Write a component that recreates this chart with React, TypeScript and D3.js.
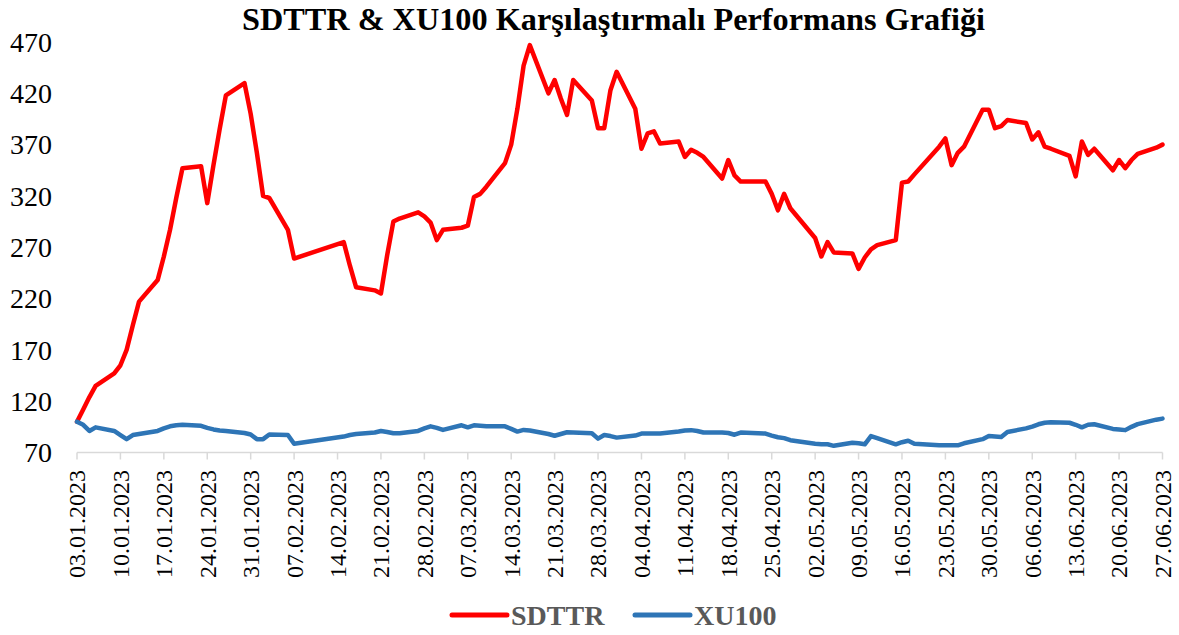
import React, { useEffect, useRef } from "react";
import * as d3 from "d3";

// trading days (Borsa Istanbul, H1 2023)
const dates = [
  "03.01.2023", "04.01.2023", "05.01.2023", "06.01.2023", "09.01.2023", "10.01.2023", "11.01.2023",
  "12.01.2023", "13.01.2023", "16.01.2023", "17.01.2023", "18.01.2023", "19.01.2023", "20.01.2023",
  "23.01.2023", "24.01.2023", "25.01.2023", "26.01.2023", "27.01.2023", "30.01.2023", "31.01.2023",
  "01.02.2023", "02.02.2023", "03.02.2023", "06.02.2023", "07.02.2023", "15.02.2023", "16.02.2023",
  "17.02.2023", "20.02.2023", "21.02.2023", "22.02.2023", "23.02.2023", "24.02.2023", "27.02.2023",
  "28.02.2023",
  "01.03.2023", "02.03.2023", "03.03.2023", "06.03.2023", "07.03.2023", "08.03.2023", "09.03.2023",
  "10.03.2023", "13.03.2023", "14.03.2023", "15.03.2023", "16.03.2023", "17.03.2023", "20.03.2023",
  "21.03.2023", "22.03.2023", "23.03.2023", "24.03.2023", "27.03.2023", "28.03.2023", "29.03.2023",
  "30.03.2023", "31.03.2023",
  "03.04.2023", "04.04.2023", "05.04.2023", "06.04.2023", "07.04.2023", "10.04.2023", "11.04.2023",
  "12.04.2023", "13.04.2023", "14.04.2023", "17.04.2023", "18.04.2023", "19.04.2023", "20.04.2023",
  "24.04.2023", "25.04.2023", "26.04.2023", "27.04.2023", "28.04.2023",
  "02.05.2023", "03.05.2023", "04.05.2023", "05.05.2023", "08.05.2023", "09.05.2023", "10.05.2023",
  "11.05.2023", "12.05.2023", "15.05.2023", "16.05.2023", "17.05.2023", "18.05.2023", "22.05.2023",
  "23.05.2023", "24.05.2023", "25.05.2023", "26.05.2023", "29.05.2023", "30.05.2023", "31.05.2023",
  "01.06.2023", "02.06.2023", "05.06.2023", "06.06.2023", "07.06.2023", "08.06.2023", "09.06.2023",
  "12.06.2023", "13.06.2023", "14.06.2023", "15.06.2023", "16.06.2023", "19.06.2023", "20.06.2023",
  "21.06.2023", "22.06.2023", "23.06.2023", "26.06.2023", "27.06.2023",
];

const sdttr = [
  100, 112, 124, 135, 147, 155, 170, 194, 217, 238, 261, 287, 318, 347, 349, 313, 350, 385, 418, 430, 400,
  362, 320, 318, 287, 259, 275, 252, 231, 228, 225, 262, 295, 298, 304, 300,
  294, 277, 287, 289, 291, 319, 322, 329, 352, 370, 405, 447, 467, 420, 433, 415, 399, 433, 413, 386, 386, 423, 441,
  405, 366, 381, 383, 371, 373, 358, 365, 362, 358, 337, 355, 340, 334, 334, 322, 306, 322, 308,
  279, 261, 275, 265, 264, 249, 260, 268, 272, 277, 333, 334, 341, 368, 376, 350, 362, 368, 404, 404, 386,
  388, 394, 391, 375, 382, 368, 366, 359, 339, 373, 360, 366, 345, 355, 347, 355, 361, 367, 370,
];

const xu100 = [
  100, 97, 91, 94.5, 91, 87, 83, 87, 88, 91, 93.5, 95.5, 96.5, 97, 96, 94, 92.5, 91.5, 91, 89, 87.6,
  83, 83, 87.6, 87, 78.5, 85.5, 87, 88, 89.5, 91, 90, 88.7, 88.7, 91, 93.5,
  95.5, 94, 92, 96.5, 94.5, 96.5, 96, 95.5, 95.5, 93, 90.4, 92, 91.5, 88, 86.3, 88, 89.7, 89.5, 88.7, 83.5, 87, 86, 84.5,
  86.5, 88.4, 88.4, 88.4, 88.5, 90.5, 91.5, 91.8, 91, 89.5, 89.4, 89, 87.3, 89.4, 88.4, 86.5, 84.9, 84, 82,
  78.5, 78, 78, 76.5, 79.5, 79, 78, 86, 84, 78, 80, 81.5, 78.5, 77, 77, 77, 77, 79, 83, 86, 85.5,
  85, 90, 93.5, 95.3, 97.5, 99, 99.5, 99, 97, 94.5, 97, 97.5, 93, 92.5, 91.8, 95, 97.7, 102, 103,
];

const tickLabels = [
  "03.01.2023", "10.01.2023", "17.01.2023", "24.01.2023", "31.01.2023", "07.02.2023", "14.02.2023",
  "21.02.2023", "28.02.2023", "07.03.2023", "14.03.2023", "21.03.2023", "28.03.2023", "04.04.2023",
  "11.04.2023", "18.04.2023", "25.04.2023", "02.05.2023", "09.05.2023", "16.05.2023", "23.05.2023",
  "30.05.2023", "06.06.2023", "13.06.2023", "20.06.2023", "27.06.2023",
];

const yTicks = [70, 120, 170, 220, 270, 320, 370, 420, 470];

const seriesNames = ["SDTTR", "XU100"];
const seriesColors = ["#ff0000", "#2e75b6"];

const serif = "'Liberation Serif', 'DejaVu Serif', serif";

export default function App() {
  const ref = useRef<SVGSVGElement | null>(null);

  useEffect(() => {
    const width = 1179;
    const height = 635;
    const marginLeft = 77;
    const marginRight = 16.5;
    const marginTop = 42;
    const axisY = 452.5;

    const parse = d3.timeParse("%d.%m.%Y");
    const days = dates.map(d => parse(d) as Date);
    const ticks = tickLabels.map(d => parse(d) as Date);

    const svg = d3.select(ref.current);
    svg.selectAll("*").remove();
    svg.attr("width", width).attr("height", height);

    const x = d3.scaleTime()
      .domain([ticks[0], ticks[ticks.length - 1]])
      .range([marginLeft, width - marginRight]);
    const y = d3.scaleLinear().domain([70, 470]).range([axisY, marginTop]);

    // title
    svg.append("text")
      .attr("x", 613.5)
      .attr("y", 30)
      .attr("text-anchor", "middle")
      .attr("font-family", serif)
      .attr("font-weight", "bold")
      .attr("font-size", 31)
      .attr("textLength", 743)
      .attr("lengthAdjust", "spacingAndGlyphs")
      .attr("fill", "#000")
      .text("SDTTR & XU100 Karşılaştırmalı Performans Grafiği");

    // y labels (no axis line)
    svg.append("g")
      .selectAll("text")
      .data(yTicks)
      .join("text")
      .attr("x", 52)
      .attr("y", d => y(d))
      .attr("dy", "0.35em")
      .attr("text-anchor", "end")
      .attr("font-family", serif)
      .attr("font-size", 28)
      .attr("fill", "#000")
      .text(d => d);

    // x axis
    const xAxis = svg.append("g").attr("transform", `translate(0,${axisY})`);
    xAxis.append("line")
      .attr("x1", marginLeft)
      .attr("x2", width - marginRight)
      .attr("stroke", "#d9d9d9")
      .attr("stroke-width", 1.5);
    xAxis.selectAll("line.tick")
      .data(ticks)
      .join("line")
      .attr("class", "tick")
      .attr("x1", d => x(d))
      .attr("x2", d => x(d))
      .attr("y1", 0)
      .attr("y2", 7)
      .attr("stroke", "#d9d9d9")
      .attr("stroke-width", 1.5);
    xAxis.selectAll("text")
      .data(ticks)
      .join("text")
      .attr("transform", d => `translate(${x(d)},${470 - axisY}) rotate(-90)`)
      .attr("dy", "0.35em")
      .attr("text-anchor", "end")
      .attr("font-family", serif)
      .attr("font-size", 24)
      .attr("fill", "#000")
      .text((d, i) => tickLabels[i]);

    // lines
    const line = d3.line<number>()
      .x((d, i) => x(days[i]))
      .y(d => y(d));

    [sdttr, xu100].forEach((values, k) => {
      svg.append("path")
        .attr("fill", "none")
        .attr("stroke", seriesColors[k])
        .attr("stroke-width", 4.5)
        .attr("stroke-linejoin", "round")
        .attr("stroke-linecap", "round")
        .attr("d", line(values));
    });

    // legend
    const legend = svg.append("g");
    const legendX = [452, 635];
    seriesNames.forEach((name, k) => {
      legend.append("line")
        .attr("x1", legendX[k])
        .attr("x2", legendX[k] + 55)
        .attr("y1", 615)
        .attr("y2", 615)
        .attr("stroke", seriesColors[k])
        .attr("stroke-width", 5)
        .attr("stroke-linecap", "round");
      legend.append("text")
        .attr("x", legendX[k] + 59)
        .attr("y", 625)
        .attr("font-family", serif)
        .attr("font-weight", "bold")
        .attr("font-size", 28)
        .attr("fill", "#595959")
        .text(name);
    });
  }, []);

  return (
    <svg ref={ref} style={{ position: "absolute", left: 0, top: 0, display: "block", background: "#fff" }} />
  );
}
